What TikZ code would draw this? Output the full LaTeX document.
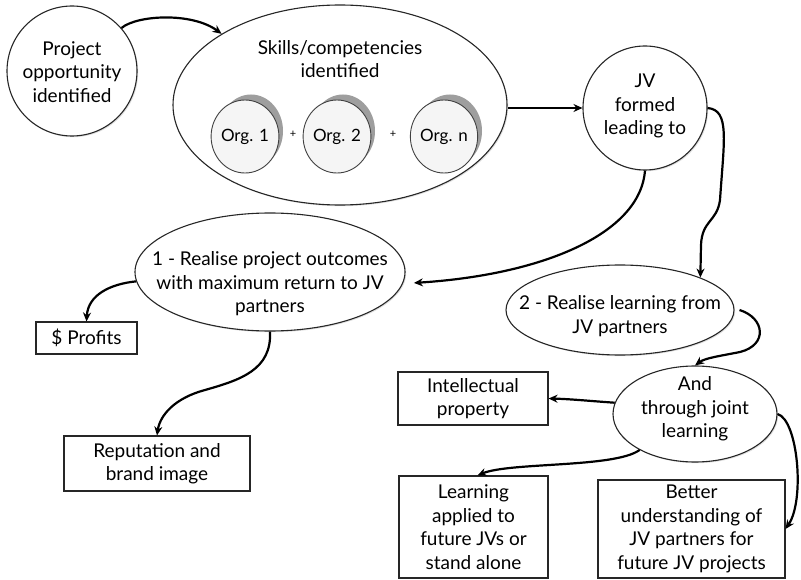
\documentclass[tikz,border=0pt]{standalone}
\usepackage{fontspec}
\setmainfont{Lato}
\usetikzlibrary{arrows.meta,shapes.geometric,shadows}
\newcommand\dfont{\fontsize{19}{23.5}\selectfont}
\newcommand\orgfont{\fontsize{17}{20}\selectfont}
\begin{document}
\begin{tikzpicture}[x=1pt,y=-1pt,
  outline/.style={draw=black!85,line width=1.1pt,fill=white,
    drop shadow={shadow xshift=1.2pt,shadow yshift=-1.2pt,opacity=0.25}},
  oval/.style={outline,ellipse,inner sep=0pt},
  box/.style={outline,rectangle,inner sep=0pt,align=center,font=\dfont},
  txt/.style={align=center,font=\dfont,inner sep=0pt},
  orgshade/.style={ellipse,inner sep=0pt,fill=black!38,
    minimum width=64pt,minimum height=73pt},
  org/.style={ellipse,inner sep=0pt,draw=black!75,line width=0.9pt,
    fill=black!4,minimum width=64pt,minimum height=73pt,font=\orgfont},
  link/.style={line width=2.2pt,draw=black,-{Stealth[length=9pt,width=8pt]}},
]
\useasboundingbox (0,0) rectangle (801,580);

% starting point
\node[oval,minimum width=130pt,minimum height=130pt] (proj) at (72,71) {};
\node[txt] (projT) at (72,72) {Project\\opportunity\\identified};

% pooled skills of the partner organisations
\node[oval,minimum width=334pt,minimum height=200pt] (skills) at (340,105) {};
\node[txt] (skillsT) at (340,59) {Skills/competencies\\identified};

\node[orgshade] (org1s) at (251,131) {};
\node[org] (org1) at (245,136.5) {Org. 1};
\node[orgshade] (org2s) at (343,131) {};
\node[org] (org2) at (337,136.5) {Org. 2};
\node[orgshade] (orgns) at (450,131) {};
\node[org] (orgn) at (444,136.5) {Org. n};
\node[font=\fontsize{11}{11}\selectfont] (plus1) at (293,134) {+};
\node[font=\fontsize{11}{11}\selectfont] (plus2) at (393,134) {+};

% joint venture
\node[oval,minimum width=124pt,minimum height=124pt] (jv) at (645,108) {};
\node[txt] (jvT) at (645,106) {JV\\formed\\leading to};

% the two outcomes
\node[oval,minimum width=270pt,minimum height=118pt] (real1) at (270,272) {};
\node[txt] (real1T) at (270,284) {1 - Realise project outcomes\\with maximum return to JV\\partners};

\node[oval,minimum width=228pt,minimum height=90pt] (real2) at (620,310) {};
\node[txt] (real2T) at (620,316) {2 - Realise learning from\\JV partners};

\node[oval,minimum width=164pt,minimum height=96pt] (and) at (695,414) {};
\node[txt] (andT) at (695,409) {And\\through joint\\learning};

% results
\node[box,minimum width=101pt,minimum height=32pt] (profits) at (86.5,338) {\$ Profits};
\node[box,minimum width=186pt,minimum height=55pt] (rep) at (157,463.5) {Reputation and\\brand image};
\node[box,minimum width=150pt,minimum height=53pt] (ip) at (473,398.5) {Intellectual\\property};
\node[box,minimum width=149pt,minimum height=102pt] (learn) at (473.5,527) {Learning\\applied to\\future JVs or\\stand alone};
\node[box,minimum width=187pt,minimum height=98pt] (better) at (691.5,529) {Better\\understanding of\\JV partners for\\future JV projects};

% connectors
\draw[link] (proj.41) .. controls (137,15) and (192,12) .. (skills.149);
\draw[link] (skills.east |- jv.west) -- (jv.west);
\draw[link,shorten >=11pt] (jv.south) .. controls (640,235) and (540,275) .. (real1.-5);
\draw[link] (jv.east) .. controls (730,110) and (724,140) .. (720,200)
  .. controls (717,222) and (702,220) .. (701,245) -- (real2.22);
\draw[link] (real1.184) .. controls (110,284) and (88,295) .. (profits.north);
\draw[link] (real1.south) .. controls (272,370) and (240,380) .. (205,390)
  .. controls (175,398) and (160,415) .. (rep.north);
\draw[link] ([xshift=5pt]real2.east) .. controls (765,318) and (768,345) .. (740,352)
  .. controls (720,356) and (705,358) .. (and.north);
\draw[link] (and.172) .. controls (590,401) and (570,399) .. (ip.east);
\draw[link] (and.213) .. controls (615,468) and (510,462) .. ([xshift=4pt]learn.north);
\draw[link] (and.east) .. controls (798,420) and (805,500) .. (better.east);
\end{tikzpicture}
\end{document}
